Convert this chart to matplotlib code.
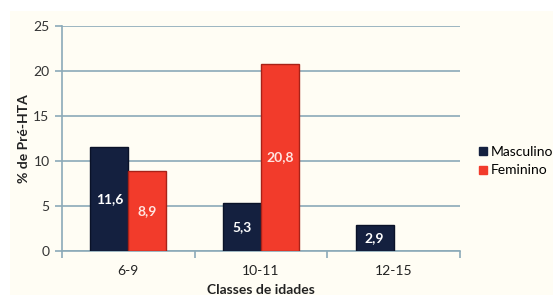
import matplotlib
matplotlib.use("Agg")
import matplotlib.pyplot as plt
import numpy as np
from matplotlib.lines import Line2D

categories = ["6-9", "10-11", "12-15"]
masculino = [11.6, 5.3, 2.9]
feminino = [8.9, 20.8, None]
yticks = [0, 5, 10, 15, 20, 25]

plt.rcParams['font.family'] = ['Lato', 'DejaVu Sans']

fig = plt.figure(figsize=(5.53, 2.95), dpi=100, facecolor='white')
bg = fig.add_axes([10/553, 0, 1 - 10/553, 284/295], zorder=-10)
bg.set_facecolor('#FFFDF4')
bg.set_xticks([]); bg.set_yticks([])
for s in bg.spines.values():
    s.set_visible(False)

ax = fig.add_axes([62/553, 44/295, 398/553, 225/295], zorder=1)
ax.set_facecolor('none')

grid_c = '#8BAAB8'
x = np.arange(len(categories))
w = 0.286
navy = '#14203F'
red = '#F23B2B'

for i in range(len(categories)):
    m = masculino[i]
    f = feminino[i]
    xm = x[i] - w / 2
    ax.bar(xm, m, width=w, color=navy, edgecolor='#0A1228', linewidth=1.0, zorder=3)
    ax.text(xm, m / 2, f"{m:.1f}".replace('.', ','), ha='center', va='center',
            color='white', fontsize=10, fontweight='bold', zorder=4)
    if f is not None:
        xf = x[i] + w / 2
        ax.bar(xf, f, width=w, color=red, edgecolor='#A82218', linewidth=1.0, zorder=3)
        ax.text(xf, f / 2, f"{f:.1f}".replace('.', ','), ha='center', va='center',
                color='#FFE4E0', fontsize=10, fontweight='bold', zorder=4)

ax.set_xlim(-0.5, 2.5)
ax.set_ylim(0, 25)
ax.set_yticks(yticks)
ax.set_yticklabels([str(t) for t in yticks], fontsize=10, color='#333333')
ax.yaxis.grid(True, color=grid_c, linewidth=1.2, zorder=1)
ax.set_axisbelow(True)
ax.set_xticks(x)
ax.set_xticklabels(categories, fontsize=10, color='#222222')
ax.tick_params(axis='x', length=0, pad=10)
ax.set_xticks([-0.5, 0.5, 1.5, 2.5], minor=True)
ax.tick_params(axis='x', which='minor', length=5, color=grid_c, width=1.2)
ax.tick_params(axis='y', length=5, color=grid_c, width=1.2, pad=4)
for s in ['top', 'right']:
    ax.spines[s].set_visible(False)
for s in ['left', 'bottom']:
    ax.spines[s].set_color(grid_c)
    ax.spines[s].set_linewidth(1.2)

ax.set_ylabel("% de Pré-HTA", fontsize=10, fontweight='bold', color='#222222', labelpad=2)
ax.set_xlabel("Classes de idades", fontsize=10, fontweight='bold', color='#222222', labelpad=5)

handles = [Line2D([], [], marker='s', linestyle='none', color=navy, markersize=6),
           Line2D([], [], marker='s', linestyle='none', color=red, markersize=6)]
fig.legend(handles, ["Masculino", "Feminino"], loc='center left',
           bbox_to_anchor=(470/553, 1 - 161/295), frameon=False, fontsize=10,
           handletextpad=0.1, labelspacing=0.5, handlelength=1.0, borderaxespad=0)

fig.savefig("out.png", dpi=100, facecolor='white')
